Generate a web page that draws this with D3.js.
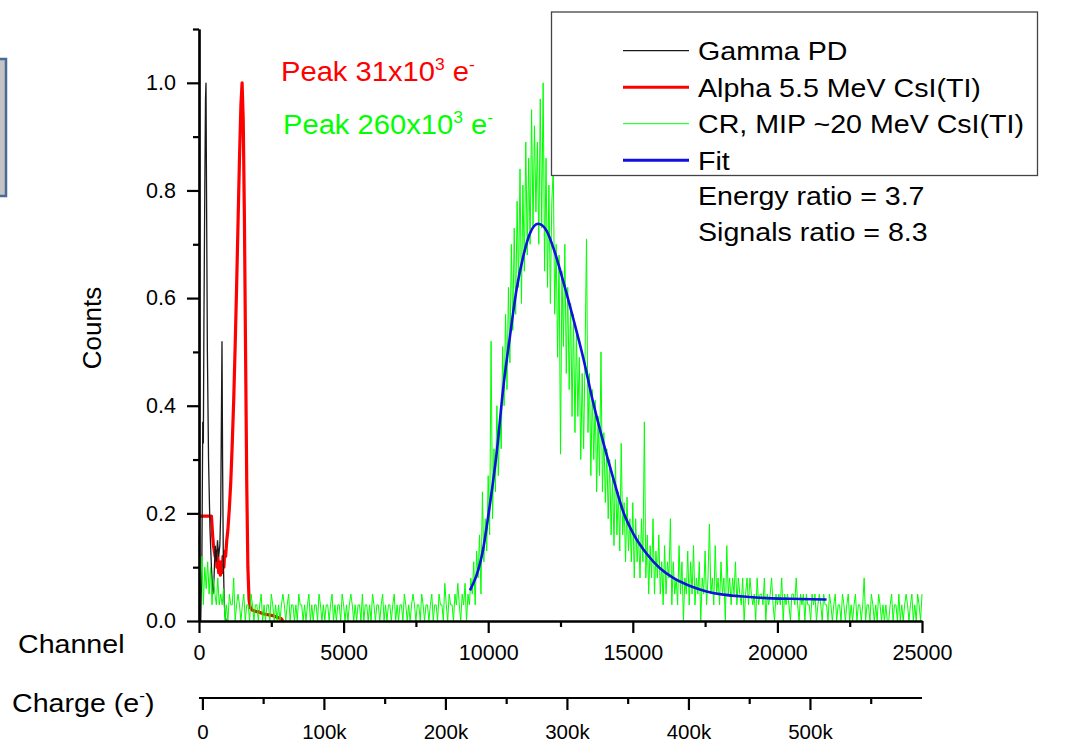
<!DOCTYPE html>
<html><head><meta charset="utf-8">
<script src="https://cdn.jsdelivr.net/npm/d3@7"></script>
<style>html,body{margin:0;padding:0;background:#fff;} svg{display:block;}</style>
</head><body>
<svg id="chart" width="1068" height="756"></svg>
<script>
// ---------- axis ticks ----------
const channelTicks = [0, 5000, 10000, 15000, 20000, 25000];
const channelMinorTicks = [2500, 7500, 12500, 17500, 22500];
const countTicks = [0, 0.2, 0.4, 0.6, 0.8, 1.0];
const countMinorTicks = [0.1, 0.3, 0.5, 0.7, 0.9, 1.1];
const chargeTicks = [0, 100000, 200000, 300000, 400000, 500000];
const chargeMinorTicks = [50000, 150000, 250000, 350000, 450000, 550000];
const chargeOffsetChannel = 117;
const electronsPerChannel = 23.8;

// ---------- Gamma PD (black) ----------
const gammaChannels = [0, 60, 100, 130, 150, 170, 200, 225, 242, 260, 290, 330, 380, 430, 480, 520, 560, 600, 640, 680, 720, 750, 775, 795, 815, 840, 870, 900, 940, 1000];
const gammaCounts   = [0, 0, 0.12, 0.37, 0.33, 0.55, 0.80, 0.97, 1.0, 0.80, 0.50, 0.30, 0.17, 0.10, 0.05, 0.08, 0.14, 0.11, 0.15, 0.12, 0.14, 0.20, 0.38, 0.52, 0.30, 0.12, 0.04, 0.01, 0.0, 0.0];

// ---------- Alpha 5.5 MeV (red) ----------
const alphaChannels = [0, 100, 200, 300, 400, 430, 470, 500, 530, 560, 590, 620, 650, 680, 710, 740, 770, 800, 830, 860, 890, 920, 960, 1000, 1050, 1100, 1150, 1200, 1250, 1300, 1350, 1400, 1450, 1490, 1530, 1570, 1610, 1650, 1690, 1730, 1770, 1850, 1950, 2050, 2150, 2250, 2350, 2450, 2550, 2650, 2750, 2850, 2900];
const alphaCounts   = [0.195, 0.195, 0.195, 0.195, 0.195, 0.195, 0.16, 0.14, 0.13, 0.12, 0.13, 0.10, 0.12, 0.09, 0.11, 0.085, 0.11, 0.09, 0.12, 0.10, 0.13, 0.12, 0.15, 0.17, 0.21, 0.26, 0.33, 0.41, 0.51, 0.62, 0.74, 0.86, 0.96, 1.0, 0.93, 0.75, 0.50, 0.26, 0.10, 0.04, 0.025, 0.02, 0.018, 0.017, 0.015, 0.013, 0.012, 0.011, 0.01, 0.008, 0.006, 0.004, 0.0];

// ---------- CR, MIP (green), one value every crStep channels ----------
const crStep = 50;
const crLowStart = 0;
const crLow = [
0.16,0.05,0.12,0.03,0.10,0.06,0.11,0.05,0.10,0.03,0.08,0.05,0.03,0.08,0.03,0.05,0.03,0.06,0.00,0.03,
0.00,0.05,0.03,0.03,0.08,0.00,0.03,0.05,0.03,0.00,0.03,0.05,0.00,0.03,0.03,0.00,0.05,0.03,0.00,0.03,
0.03,0.00,0.03,0.05,0.00,0.03,0.00,0.03,0.03,0.00,0.05,0.03,0.00,0.03,0.00,0.03,0.00,0.03,0.05,0.03,
0.00,0.03,0.05,0.00,0.03,0.03,0.00,0.03,0.00,0.05,0.03,0.03,0.00,0.03,0.00,0.03,0.05,0.00,0.03,0.00,
0.03,0.03,0.00,0.05,0.03,0.00,0.03,0.00,0.03,0.03,0.00,0.03,0.05,0.00,0.03,0.00,0.03,0.03,0.00,0.05,
0.03,0.00,0.03,0.00,0.03,0.05,0.03,0.00,0.03,0.00,0.03,0.03,0.00,0.05,0.00,0.03,0.03,0.00,0.03,0.00,
0.05,0.03,0.00,0.03,0.03,0.00,0.03,0.05,0.00,0.03,0.00,0.03,0.03,0.00,0.03,0.05,0.00,0.03,0.00,0.03,
0.03,0.00,0.05,0.03,0.00,0.03,0.00,0.03,0.05,0.03,0.00,0.03,0.03,0.00,0.05,0.03,0.00,0.03,0.03,0.00,
0.03,0.05,0.00,0.03,0.03,0.00,0.05,0.03,0.03,0.00,0.07,0.03,0.00,0.05,0.03,0.03,0.00,0.05,0.03,0.07];
const crPeakStart = 9000;
const crPeak = [
0.03,0.00,0.05,0.03,0.07,0.00,0.05,0.03,0.08,0.05,0.11,0.03,0.13,0.08,0.16,0.05,0.24,0.11,0.19,0.13,
0.27,0.16,0.52,0.19,0.32,0.24,0.40,0.27,0.38,0.32,0.51,0.40,0.57,0.43,0.62,0.48,0.70,0.54,0.73,0.57,
0.78,0.62,0.84,0.59,0.81,0.65,0.89,0.68,0.86,0.70,0.95,0.73,0.92,0.76,0.89,0.70,0.97,0.73,1.00,0.65,
0.86,0.62,0.81,0.59,0.78,0.84,0.57,0.70,0.49,0.68,0.31,0.65,0.51,0.70,0.46,0.62,0.43,0.59,0.38,0.57,
0.35,0.54,0.38,0.49,0.30,0.46,0.32,0.50,0.71,0.35,0.46,0.27,0.43,0.30,0.41,0.24,0.38,0.27,0.50,0.24,
0.35,0.22,0.32,0.19,0.30,0.16,0.27,0.14,0.30,0.16,0.24,0.13,0.33,0.16,0.22,0.11,0.23,0.13,0.19,0.11,
0.22,0.08,0.19,0.11,0.16,0.08,0.19,0.11,0.37,0.08,0.16,0.05,0.14,0.08,0.19,0.05,0.13,0.08,0.16,0.05,
0.11,0.03,0.14,0.05,0.11,0.08,0.19,0.03,0.11,0.05,0.08,0.03,0.14,0.05,0.11,0.00,0.08,0.05,0.13,0.03,
0.11,0.05,0.14,0.03,0.08,0.05,0.11,0.00,0.08,0.05,0.13,0.03,0.08,0.18,0.05,0.08,0.03,0.14,0.05,0.08,
0.03,0.11,0.05,0.08,0.00,0.14,0.05,0.08,0.03,0.08,0.05,0.11,0.03,0.08,0.05,0.03,0.08,0.00,0.05,0.08];
const crTailStart = 19000;
const crTail = [
0.03,0.08,0.05,0.03,0.05,0.00,0.08,0.03,0.05,0.05,0.03,0.08,0.00,0.05,0.03,0.05,0.08,0.03,0.00,0.05,
0.03,0.05,0.03,0.08,0.00,0.05,0.03,0.05,0.03,0.00,0.05,0.05,0.03,0.08,0.03,0.00,0.05,0.03,0.05,0.00,
0.05,0.03,0.03,0.00,0.05,0.03,0.05,0.00,0.03,0.05,0.03,0.00,0.05,0.03,0.03,0.00,0.05,0.03,0.00,0.03,
0.05,0.00,0.03,0.03,0.00,0.05,0.03,0.00,0.03,0.05,0.00,0.03,0.00,0.03,0.05,0.00,0.03,0.03,0.00,0.03,
0.08,0.00,0.03,0.03,0.00,0.05,0.03,0.00,0.03,0.00,0.05,0.03,0.00,0.03,0.00,0.03,0.00,0.00,0.03,0.05,
0.00,0.03,0.03,0.00,0.05,0.00,0.03,0.00,0.03,0.05,0.03,0.00,0.03,0.05,0.00,0.03,0.00,0.05,0.03,0.00,
0.05];

// ---------- Fit (blue) ----------
const fitChannels = [9370, 9830, 10060, 10290, 10520, 10750, 10980, 11210, 11450, 11730, 12020, 12310, 12600, 12940, 13290, 13630, 13980, 14330, 14670, 15020, 15480, 15940, 16400, 16980, 17550, 18130, 18700, 19800, 20800, 21700];
const fitCounts   = [0.057, 0.135, 0.217, 0.311, 0.433, 0.528, 0.616, 0.677, 0.721, 0.738, 0.725, 0.684, 0.630, 0.562, 0.488, 0.406, 0.332, 0.264, 0.203, 0.162, 0.125, 0.098, 0.080, 0.065, 0.055, 0.049, 0.046, 0.042, 0.041, 0.040];

// ---------- legend ----------
const legendLabels = ["Gamma PD", "Alpha 5.5 MeV CsI(TI)", "CR, MIP ~20 MeV CsI(TI)", "Fit"];
const legendColors = ["#1a1a1a", "#ff0000", "#00ff00", "#1010e0"];
const legendWidths = [1.2, 3, 1, 3];
const noteLines = ["Energy ratio = 3.7", "Signals ratio = 8.3"];

// =====================================================
const FONT = "'Liberation Sans', Arial, Helvetica, sans-serif";
const svg = d3.select("#chart").attr("font-family", FONT);
svg.append("rect").attr("width", 1068).attr("height", 756).attr("fill", "#fff");

const x = d3.scaleLinear().domain([0, 25000]).range([199, 922]);
const y = d3.scaleLinear().domain([0, 1.1]).range([621, 29]);
const chargeScale = d3.scaleLinear()
  .domain([(0 - chargeOffsetChannel) * electronsPerChannel, (25000 - chargeOffsetChannel) * electronsPerChannel])
  .range(x.range());

// left decorative box (cut off by page edge)
svg.append("rect").attr("x", -6).attr("y", 59).attr("width", 12).attr("height", 137)
  .attr("fill", "#c4c4c4").attr("stroke", "#4a6a98").attr("stroke-width", 2.5);

// series
const line = d3.line().x(d => x(d[0])).y(d => y(d[1]));
const zip = (a, b) => a.map((v, i) => [v, b[i]]);
const grid = (start, vals) => vals.map((v, i) => [start + i * crStep, v]);

const plot = svg.append("g");
plot.append("path").datum(zip(alphaChannels, alphaCounts)).attr("d", line)
  .attr("fill", "none").attr("stroke", "#ff0000").attr("stroke-width", 3.2).attr("stroke-linejoin", "round");
plot.append("path").datum(zip(gammaChannels, gammaCounts)).attr("d", line)
  .attr("fill", "none").attr("stroke", "#1a1a1a").attr("stroke-width", 1.3);
const crData = grid(crLowStart, crLow).concat(grid(crPeakStart, crPeak), grid(crTailStart, crTail));
plot.append("path").datum(crData).attr("d", line)
  .attr("fill", "none").attr("stroke", "#00ff00").attr("stroke-width", 1);
plot.append("path").datum(zip(fitChannels, fitCounts)).attr("d", d3.line().x(d => x(d[0])).y(d => y(d[1])).curve(d3.curveMonotoneX))
  .attr("fill", "none").attr("stroke", "#1010e0").attr("stroke-width", 2.6);

// axes
function styleAxis(g, size) {
  g.select(".domain").attr("stroke", "#000").attr("stroke-width", 2.2);
  g.selectAll(".tick line").attr("stroke", "#000").attr("stroke-width", 2.2);
  g.attr("font-family", FONT).attr("font-size", size);
  g.selectAll(".tick text").attr("fill", "#000");
}
const xAxisG = svg.append("g").attr("transform", "translate(0,621)")
  .call(d3.axisBottom(x).tickValues(channelTicks).tickFormat(d3.format("d")).tickSize(12).tickSizeOuter(0).tickPadding(12));
styleAxis(xAxisG, 21.5);
const xMinorG = svg.append("g").attr("transform", "translate(0,621)")
  .call(d3.axisBottom(x).tickValues(channelMinorTicks).tickFormat("").tickSize(6).tickSizeOuter(0));
styleAxis(xMinorG, 10);

const yAxisG = svg.append("g").attr("transform", "translate(199,0)")
  .call(d3.axisLeft(y).tickValues(countTicks).tickFormat(d3.format(".1f")).tickSize(12).tickSizeOuter(0).tickPadding(11));
styleAxis(yAxisG, 21.5);
const yMinorG = svg.append("g").attr("transform", "translate(199,0)")
  .call(d3.axisLeft(y).tickValues(countMinorTicks).tickFormat("").tickSize(6).tickSizeOuter(0));
styleAxis(yMinorG, 10);

const cAxisG = svg.append("g").attr("transform", "translate(0,698)")
  .call(d3.axisBottom(chargeScale).tickValues(chargeTicks).tickFormat(d => d === 0 ? "0" : (d / 1000) + "k").tickSize(12).tickSizeOuter(0).tickPadding(14));
styleAxis(cAxisG, 20.5);
cAxisG.select(".domain").attr("d", `M${x.range()[0]},0H${x.range()[1]}`);
const cMinorG = svg.append("g").attr("transform", "translate(0,698)")
  .call(d3.axisBottom(chargeScale).tickValues(chargeMinorTicks).tickFormat("").tickSize(6).tickSizeOuter(0));
styleAxis(cMinorG, 10);
cMinorG.select(".domain").remove();

// stretched text helper
function richText(px, py, size, color, parts, sx) {
  const t = svg.append("text").attr("transform", `translate(${px},${py}) scale(${sx || 1.1},1)`)
    .attr("font-size", size).attr("fill", color);
  let raised = false;
  parts.forEach(p => {
    const sup = Array.isArray(p);
    const s = sup ? p[0] : p;
    const ts = t.append("tspan").text(s);
    if (sup && !raised) { ts.attr("dy", -size * 0.42).attr("font-size", size * 0.6); raised = true; }
    else if (sup) { ts.attr("font-size", size * 0.6); }
    else if (raised) { ts.attr("dy", size * 0.42); raised = false; }
  });
  t.style("white-space", "pre");
  return t;
}

// axis titles
svg.append("text").attr("transform", "translate(101,328) rotate(-90)")
  .attr("text-anchor", "middle").attr("font-size", 26).attr("fill", "#000").text("Counts");
richText(18, 653, 26, "#000", ["Channel"]);
richText(12, 712, 26, "#000", ["Charge (e", ["-"], ")"]);

// peak annotations
richText(281, 81, 27, "#ff0000", ["Peak 31x10", ["3"], " e", ["-"]], 1.08);
richText(283, 134, 27, "#00ff00", ["Peak 260x10", ["3"], " e", ["-"]], 1.08);

// legend
const leg = svg.append("g");
leg.append("rect").attr("x", 551.5).attr("y", 12).attr("width", 486).attr("height", 163.5)
  .attr("fill", "#fff").attr("stroke", "#444").attr("stroke-width", 1.3);
legendLabels.forEach((lab, i) => {
  const cy = 50.7 + i * 36.5;
  leg.append("line").attr("x1", 623).attr("x2", 689).attr("y1", cy).attr("y2", cy)
    .attr("stroke", legendColors[i]).attr("stroke-width", legendWidths[i]);
  richText(698, cy + 9.3, 26, "#000", [lab]);
});
noteLines.forEach((s, i) => {
  richText(698, 196 + i * 36 + 9.3, 26, "#000", [s]);
});
</script>
</body></html>
